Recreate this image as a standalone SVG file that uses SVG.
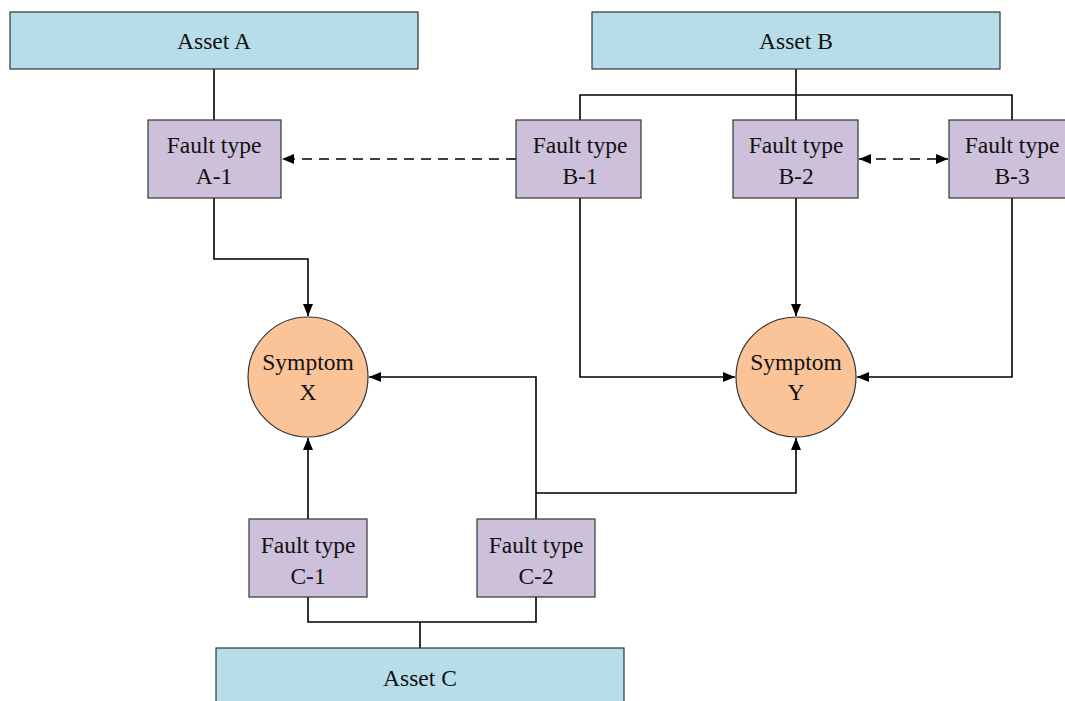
<svg xmlns="http://www.w3.org/2000/svg" width="1065" height="701" viewBox="0 0 1065 701">
  <style>
    .asset { fill: #b7dde8; stroke: #333; stroke-width: 1.2; }
    .fault { fill: #ccc0da; stroke: #333; stroke-width: 1.2; }
    .symptom { fill: #fac498; stroke: #333; stroke-width: 1.2; }
    .lbl { font-family: "Liberation Serif", "Times New Roman", serif; font-size: 23.5px; fill: #111; text-anchor: middle; }
    .wire { fill: none; stroke: #000; stroke-width: 1.6; }
    .dash { fill: none; stroke: #000; stroke-width: 1.6; stroke-dasharray: 10 7; }
  </style>
  <defs>
    <marker id="arrowEnd" viewBox="0 0 12 10" refX="12" refY="5" markerWidth="12" markerHeight="10" markerUnits="userSpaceOnUse" orient="auto">
      <path d="M0,0 L12,5 L0,10 Z" fill="#000"/>
    </marker>
    <marker id="arrowStart" viewBox="0 0 12 10" refX="0" refY="5" markerWidth="12" markerHeight="10" markerUnits="userSpaceOnUse" orient="auto">
      <path d="M12,0 L0,5 L12,10 Z" fill="#000"/>
    </marker>
  </defs>

  <rect width="1065" height="701" fill="#fff"/>

  <!-- connectors -->
  <g id="connectors">
    <!-- asset stems -->
    <path class="wire" d="M214,69 V120"/>
    <path class="wire" d="M796,69 V120 M580,120 V95 H1012 V120"/>
    <path class="wire" d="M420,648 V622 M308,597 V622 H536 V597"/>
    <!-- fault to symptom -->
    <path class="wire" d="M214,198 V259 H308 V316" marker-end="url(#arrowEnd)"/>
    <path class="wire" d="M580,198 V377 H735" marker-end="url(#arrowEnd)"/>
    <path class="wire" d="M796,198 V316" marker-end="url(#arrowEnd)"/>
    <path class="wire" d="M1012,198 V377 H857" marker-end="url(#arrowEnd)"/>
    <path class="wire" d="M308,519 V438" marker-end="url(#arrowEnd)"/>
    <path class="wire" d="M536,519 V377 H369" marker-end="url(#arrowEnd)"/>
    <path class="wire" d="M536,493 H796 V438" marker-end="url(#arrowEnd)"/>
    <!-- dashed relations -->
    <path class="dash" d="M516,159 H282" marker-end="url(#arrowEnd)"/>
    <path class="dash" d="M859,159 H948" marker-start="url(#arrowStart)" marker-end="url(#arrowEnd)"/>
  </g>

  <g id="assetA">
    <rect class="asset" x="10" y="12" width="408" height="57"/>
    <text class="lbl" x="214" y="49">Asset A</text>
  </g>
  <g id="assetB">
    <rect class="asset" x="592" y="12" width="408" height="57"/>
    <text class="lbl" x="796" y="49">Asset B</text>
  </g>
  <g id="assetC">
    <rect class="asset" x="216" y="648" width="408" height="60"/>
    <text class="lbl" x="420" y="686">Asset C</text>
  </g>

  <g id="faultA1">
    <rect class="fault" x="148" y="120" width="133" height="78"/>
    <text class="lbl" x="214" y="153">Fault type</text>
    <text class="lbl" x="214" y="184">A-1</text>
  </g>
  <g id="faultB1">
    <rect class="fault" x="516" y="120" width="125" height="78"/>
    <text class="lbl" x="580" y="153">Fault type</text>
    <text class="lbl" x="580" y="184">B-1</text>
  </g>
  <g id="faultB2">
    <rect class="fault" x="733" y="120" width="125" height="78"/>
    <text class="lbl" x="796" y="153">Fault type</text>
    <text class="lbl" x="796" y="184">B-2</text>
  </g>
  <g id="faultB3">
    <rect class="fault" x="949" y="120" width="125" height="78"/>
    <text class="lbl" x="1012" y="153">Fault type</text>
    <text class="lbl" x="1012" y="184">B-3</text>
  </g>
  <g id="faultC1">
    <rect class="fault" x="249" y="519" width="118" height="78"/>
    <text class="lbl" x="308" y="553">Fault type</text>
    <text class="lbl" x="308" y="584">C-1</text>
  </g>
  <g id="faultC2">
    <rect class="fault" x="477" y="519" width="118" height="78"/>
    <text class="lbl" x="536" y="553">Fault type</text>
    <text class="lbl" x="536" y="584">C-2</text>
  </g>

  <g id="symptomX">
    <circle class="symptom" cx="308" cy="377" r="60"/>
    <text class="lbl" x="308" y="370">Symptom</text>
    <text class="lbl" x="308" y="400">X</text>
  </g>
  <g id="symptomY">
    <circle class="symptom" cx="796" cy="377" r="60"/>
    <text class="lbl" x="796" y="370">Symptom</text>
    <text class="lbl" x="796" y="400">Y</text>
  </g>
</svg>
